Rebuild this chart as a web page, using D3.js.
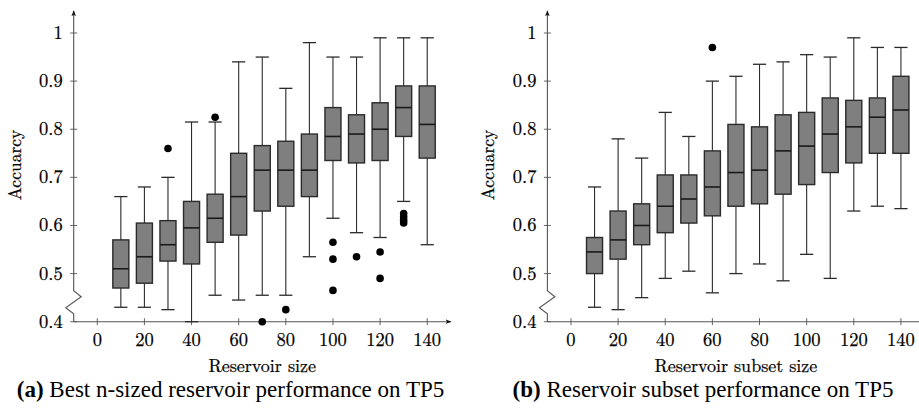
<!DOCTYPE html>
<html>
<head>
<meta charset="utf-8">
<script src="https://cdn.jsdelivr.net/npm/d3@7"></script>
<style>
  html, body { margin: 0; padding: 0; background: #fff; }
</style>
</head>
<body>
<svg id="fig" width="919" height="411"></svg>
<script>
// Reservoir sizes on the x axis
const sizes = [10, 20, 30, 40, 50, 60, 70, 80, 90, 100, 110, 120, 130, 140];

// (a) best n-sized reservoir: whisker ends, quartiles and medians
const bestLow    = [0.43, 0.43, 0.425, 0.40, 0.455, 0.445, 0.455, 0.455, 0.535, 0.615, 0.585, 0.575, 0.65, 0.56];
const bestQ1     = [0.47, 0.48, 0.526, 0.52, 0.565, 0.58, 0.63, 0.64, 0.66, 0.735, 0.73, 0.735, 0.785, 0.74];
const bestMedian = [0.51, 0.535, 0.56, 0.595, 0.615, 0.66, 0.715, 0.715, 0.715, 0.785, 0.79, 0.80, 0.845, 0.81];
const bestQ3     = [0.57, 0.605, 0.61, 0.65, 0.665, 0.75, 0.766, 0.775, 0.79, 0.845, 0.83, 0.855, 0.89, 0.89];
const bestHigh   = [0.66, 0.68, 0.70, 0.815, 0.815, 0.94, 0.95, 0.885, 0.98, 0.95, 0.95, 0.99, 0.99, 0.99];
const bestOutliers = [
  [30, 0.76], [50, 0.825], [70, 0.40], [80, 0.425],
  [100, 0.565], [100, 0.53], [100, 0.465], [110, 0.535],
  [120, 0.545], [120, 0.49],
  [130, 0.625], [130, 0.618], [130, 0.611], [130, 0.605]
];

// (b) reservoir subsets
const subLow    = [0.43, 0.425, 0.45, 0.49, 0.505, 0.46, 0.50, 0.52, 0.485, 0.54, 0.49, 0.63, 0.64, 0.635];
const subQ1     = [0.50, 0.53, 0.56, 0.585, 0.605, 0.62, 0.64, 0.645, 0.665, 0.685, 0.71, 0.73, 0.75, 0.75];
const subMedian = [0.545, 0.57, 0.60, 0.64, 0.655, 0.68, 0.71, 0.715, 0.755, 0.765, 0.79, 0.805, 0.825, 0.84];
const subQ3     = [0.575, 0.63, 0.645, 0.705, 0.705, 0.755, 0.81, 0.805, 0.83, 0.835, 0.865, 0.86, 0.865, 0.91];
const subHigh   = [0.68, 0.78, 0.74, 0.835, 0.785, 0.90, 0.91, 0.935, 0.94, 0.955, 0.95, 0.99, 0.97, 0.97];
const subOutliers = [[60, 0.97]];

const xTicks = [0, 20, 40, 60, 80, 100, 120, 140];
const yTicks = [0.4, 0.5, 0.6, 0.7, 0.8, 0.9, 1];
const yTickLabels = ["0.4", "0.5", "0.6", "0.7", "0.8", "0.9", "1"];

const MATH_FONT = '"Latin Modern Roman"';
const CAPTION_FONT = '"Liberation Serif"';
const INK = "#000";

const svg = d3.select("#fig");

svg.append("defs").append("marker")
  .attr("id", "arrow")
  .attr("viewBox", "0 0 10 10")
  .attr("refX", 8).attr("refY", 5)
  .attr("markerWidth", 6).attr("markerHeight", 6)
  .attr("orient", "auto-start-reverse")
  .append("path")
  .attr("d", "M0,1.5 L9,5 L0,8.5 L2.5,5 Z")
  .attr("fill", "#111");

function panel(opts) {
  const x = d3.scaleLinear().domain([-10, 150]).range([opts.x0, opts.x0 + 377.1]);
  const y = d3.scaleLinear().domain([0.4, 1]).range([321.7, 33]);
  const g = svg.append("g");
  const axisColor = "#555";
  const ax = x(-10), yBase = y(0.4);

  // y axis with a broken-scale zigzag near the bottom
  const yTop = 10;
  g.append("path")
    .attr("d", `M${ax},${yBase} L${ax},${yBase - 8} L${ax - 8},${yBase - 14} L${ax + 7.5},${yBase - 25} L${ax},${yBase - 31} L${ax},${yTop + 1}`)
    .attr("fill", "none").attr("stroke", axisColor).attr("stroke-width", 1.1)
    .attr("marker-end", "url(#arrow)");

  // x axis
  g.append("line")
    .attr("x1", ax).attr("x2", x(150))
    .attr("y1", yBase).attr("y2", yBase)
    .attr("stroke", axisColor).attr("stroke-width", 1.1)
    .attr("marker-end", "url(#arrow)");

  // y ticks and labels
  g.selectAll(".yt").data(yTicks).join("line")
    .attr("x1", ax - 3.5).attr("x2", ax + 3.5)
    .attr("y1", d => y(d)).attr("y2", d => y(d))
    .attr("stroke", axisColor).attr("stroke-width", 0.9);
  g.selectAll(".ytl").data(yTicks).join("text")
    .attr("x", ax - 11).attr("y", d => y(d))
    .attr("dy", "0.32em").attr("text-anchor", "end")
    .style("font-family", MATH_FONT).style("font-size", "18.5px")
    .attr("fill", INK).attr("stroke", INK).attr("stroke-width", 0.25)
    .text((d, i) => yTickLabels[i]);

  // x ticks and labels
  g.selectAll(".xt").data(xTicks).join("line")
    .attr("x1", d => x(d)).attr("x2", d => x(d))
    .attr("y1", yBase - 3.5).attr("y2", yBase + 3.5)
    .attr("stroke", axisColor).attr("stroke-width", 0.9);
  g.selectAll(".xtl").data(xTicks).join("text")
    .attr("x", d => x(d)).attr("y", 346)
    .attr("text-anchor", "middle")
    .style("font-family", MATH_FONT).style("font-size", "18.5px")
    .attr("fill", INK).attr("stroke", INK).attr("stroke-width", 0.25)
    .text(d => d);

  // axis titles
  g.append("text")
    .attr("x", x(70)).attr("y", 371.5)
    .attr("text-anchor", "middle")
    .style("font-family", MATH_FONT).style("font-size", "18px")
    .attr("fill", INK).attr("stroke", INK).attr("stroke-width", 0.25)
    .text(opts.xTitle);
  g.append("text")
    .attr("transform", `translate(${ax - 53},${165}) rotate(-90)`)
    .attr("text-anchor", "middle")
    .style("font-family", MATH_FONT).style("font-size", "17.5px")
    .attr("fill", INK).attr("stroke", INK).attr("stroke-width", 0.25)
    .text("Accuarcy");

  // caption: bold tag followed by the description
  const cap = g.append("text")
    .attr("x", opts.capX).attr("y", 397)
    .attr("text-anchor", "middle")
    .style("font-family", CAPTION_FONT).style("font-size", "23px")
    .attr("fill", INK);
  cap.append("tspan")
    .style("font-family", CAPTION_FONT).style("font-weight", "bold")
    .text(opts.capTag);
  cap.append("tspan")
    .style("font-family", CAPTION_FONT)
    .text(" " + opts.capText);

  // box plots
  const half = 3.4, capHalf = 2.8;
  const stroke = "#2b2b2b";
  sizes.forEach((s, i) => {
    const bg = g.append("g");
    // whiskers
    bg.append("line")
      .attr("x1", x(s)).attr("x2", x(s))
      .attr("y1", y(opts.q3[i])).attr("y2", y(opts.high[i]))
      .attr("stroke", stroke).attr("stroke-width", 1.1);
    bg.append("line")
      .attr("x1", x(s)).attr("x2", x(s))
      .attr("y1", y(opts.q1[i])).attr("y2", y(opts.low[i]))
      .attr("stroke", stroke).attr("stroke-width", 1.1);
    [opts.high[i], opts.low[i]].forEach(v => {
      bg.append("line")
        .attr("x1", x(s - capHalf)).attr("x2", x(s + capHalf))
        .attr("y1", y(v)).attr("y2", y(v))
        .attr("stroke", stroke).attr("stroke-width", 1.3);
    });
    // box
    bg.append("rect")
      .attr("x", x(s - half)).attr("width", x(s + half) - x(s - half))
      .attr("y", y(opts.q3[i])).attr("height", y(opts.q1[i]) - y(opts.q3[i]))
      .attr("fill", "#7f7f7f").attr("stroke", stroke).attr("stroke-width", 1.4);
    // median
    bg.append("line")
      .attr("x1", x(s - half)).attr("x2", x(s + half))
      .attr("y1", y(opts.median[i])).attr("y2", y(opts.median[i]))
      .attr("stroke", "#1a1a1a").attr("stroke-width", 1.6);
  });

  // outliers
  g.selectAll(".out").data(opts.outliers).join("circle")
    .attr("cx", d => x(d[0])).attr("cy", d => y(d[1]))
    .attr("r", 3.8).attr("fill", "#000");
}

panel({
  x0: 73.7,
  low: bestLow, q1: bestQ1, median: bestMedian, q3: bestQ3, high: bestHigh,
  outliers: bestOutliers,
  xTitle: "Reservoir size",
  capX: 230.5, capTag: "(a)", capText: "Best n-sized reservoir performance on TP5"
});

panel({
  x0: 547.4,
  low: subLow, q1: subQ1, median: subMedian, q3: subQ3, high: subHigh,
  outliers: subOutliers,
  xTitle: "Reservoir subset size",
  capX: 703, capTag: "(b)", capText: "Reservoir subset performance on TP5"
});
</script>
</body>
</html>
